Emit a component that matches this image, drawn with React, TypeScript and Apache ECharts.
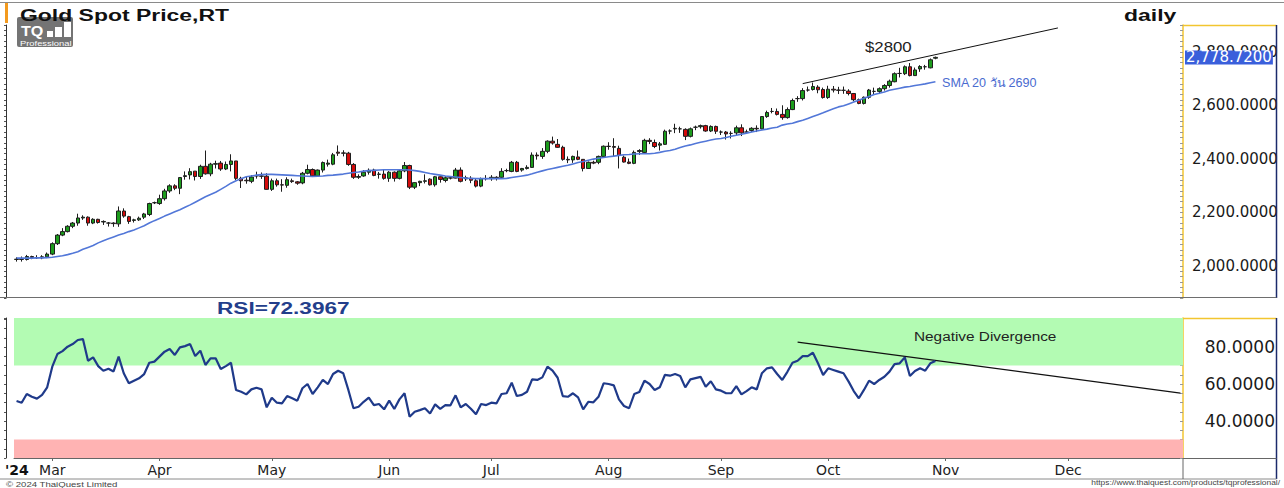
import React, { useEffect, useRef } from 'react';
import * as echarts from 'echarts';

// ---------- DATA ----------
// [open, close, low, high]
const OHLC_FEB = [
  [2024, 2025, 2016, 2032], [2025, 2024, 2016, 2035], [2024, 2035, 2020, 2041], [2035, 2031, 2025, 2038],
  [2031, 2030, 2026, 2040], [2030, 2034, 2025, 2040], [2034, 2044, 2029, 2050],
];
const OHLC_MAR = [
  [2044, 2083, 2040, 2088], [2083, 2115, 2078, 2119], [2115, 2128, 2111, 2141], [2128, 2148, 2125, 2152],
  [2148, 2160, 2141, 2164], [2160, 2179, 2150, 2195], [2179, 2182, 2172, 2189], [2182, 2160, 2150, 2185],
  [2160, 2174, 2156, 2178], [2174, 2162, 2158, 2176], [2164, 2166, 2153, 2170], [2160, 2160, 2147, 2164],
  [2160, 2158, 2146, 2163], [2157, 2205, 2146, 2222], [2205, 2186, 2180, 2215], [2184, 2166, 2157, 2187],
  [2170, 2172, 2162, 2176], [2172, 2178, 2168, 2184], [2182, 2194, 2175, 2198], [2192, 2233, 2186, 2236],
  [2236, 2236, 2231, 2240],
];
const OHLC_APR = [
  [2233, 2251, 2228, 2266], [2251, 2280, 2244, 2288], [2280, 2299, 2273, 2305], [2299, 2290, 2283, 2305],
  [2290, 2330, 2268, 2331], [2334, 2337, 2322, 2353], [2340, 2352, 2323, 2365], [2354, 2334, 2319, 2354],
  [2334, 2372, 2325, 2378], [2372, 2344, 2341, 2431], [2344, 2380, 2335, 2385], [2380, 2382, 2364, 2393],
  [2384, 2362, 2355, 2392], [2362, 2379, 2358, 2390], [2379, 2392, 2353, 2417], [2392, 2327, 2321, 2392],
  [2327, 2318, 2291, 2333], [2320, 2318, 2307, 2334], [2316, 2332, 2309, 2339], [2336, 2337, 2326, 2352],
  [2336, 2335, 2325, 2349], [2335, 2286, 2285, 2346],
];
const OHLC_MAY = [
  [2286, 2318, 2280, 2326], [2318, 2303, 2296, 2326], [2303, 2302, 2277, 2324], [2301, 2322, 2292, 2331],
  [2318, 2315, 2310, 2326], [2314, 2309, 2303, 2317], [2310, 2346, 2305, 2351], [2346, 2360, 2342, 2378],
  [2360, 2336, 2332, 2364], [2336, 2358, 2334, 2360], [2358, 2386, 2349, 2390], [2380, 2384, 2371, 2397],
  [2380, 2415, 2376, 2422], [2425, 2421, 2411, 2450], [2422, 2421, 2409, 2432], [2421, 2379, 2374, 2426],
  [2379, 2331, 2325, 2384], [2331, 2334, 2325, 2342], [2336, 2350, 2333, 2358], [2350, 2357, 2341, 2364],
  [2358, 2338, 2335, 2363], [2342, 2343, 2326, 2351], [2343, 2327, 2322, 2360],
];
const OHLC_JUN = [
  [2327, 2350, 2314, 2354], [2350, 2327, 2315, 2353], [2327, 2355, 2323, 2358], [2355, 2375, 2350, 2388],
  [2375, 2294, 2287, 2378], [2294, 2311, 2287, 2312], [2311, 2316, 2298, 2318], [2316, 2318, 2308, 2342],
  [2324, 2303, 2300, 2327], [2303, 2333, 2296, 2336], [2333, 2323, 2311, 2334], [2319, 2329, 2312, 2335],
  [2329, 2328, 2323, 2335], [2328, 2358, 2327, 2366], [2358, 2316, 2312, 2368], [2325, 2329, 2317, 2337],
  [2327, 2320, 2309, 2335], [2318, 2298, 2293, 2325], [2298, 2326, 2294, 2330], [2326, 2326, 2319, 2339],
];
const OHLC_JUL = [
  [2326, 2331, 2318, 2339], [2331, 2329, 2319, 2335], [2331, 2353, 2325, 2365], [2356, 2356, 2350, 2363],
  [2353, 2387, 2350, 2392], [2387, 2353, 2350, 2392], [2358, 2364, 2352, 2366], [2364, 2368, 2360, 2376],
  [2368, 2414, 2366, 2424], [2414, 2411, 2397, 2424], [2409, 2428, 2400, 2440], [2428, 2466, 2421, 2469],
  [2466, 2459, 2453, 2483], [2454, 2443, 2441, 2474], [2443, 2398, 2393, 2449], [2398, 2396, 2384, 2409],
  [2396, 2409, 2385, 2412], [2407, 2398, 2395, 2431], [2398, 2364, 2353, 2399], [2364, 2387, 2362, 2390],
  [2387, 2384, 2380, 2393], [2387, 2409, 2380, 2412], [2409, 2447, 2406, 2450],
];
const OHLC_AUG = [
  [2447, 2446, 2434, 2462], [2446, 2443, 2410, 2477], [2439, 2413, 2364, 2449], [2406, 2388, 2386, 2412],
  [2388, 2383, 2380, 2401], [2383, 2424, 2380, 2431], [2427, 2431, 2415, 2436], [2424, 2469, 2422, 2475],
  [2469, 2465, 2455, 2477], [2461, 2446, 2440, 2472], [2451, 2456, 2431, 2463], [2454, 2503, 2452, 2509],
  [2504, 2504, 2492, 2510], [2512, 2514, 2496, 2531], [2512, 2512, 2497, 2520], [2510, 2484, 2470, 2514],
  [2484, 2512, 2480, 2517], [2518, 2518, 2507, 2524], [2520, 2524, 2513, 2528], [2524, 2504, 2501, 2527],
  [2504, 2521, 2500, 2525], [2521, 2503, 2493, 2524],
];
const OHLC_SEP = [
  [2500, 2500, 2489, 2506], [2500, 2493, 2472, 2504], [2495, 2495, 2476, 2503], [2497, 2516, 2486, 2524],
  [2516, 2497, 2485, 2529], [2500, 2500, 2494, 2509], [2506, 2514, 2500, 2518], [2514, 2512, 2500, 2525],
  [2512, 2558, 2510, 2560], [2558, 2573, 2553, 2580], [2577, 2577, 2570, 2590], [2577, 2566, 2562, 2588],
  [2566, 2554, 2546, 2600], [2554, 2584, 2550, 2592], [2584, 2618, 2582, 2625], [2625, 2625, 2613, 2634],
  [2625, 2655, 2618, 2664], [2657, 2657, 2651, 2670], [2659, 2670, 2655, 2685], [2668, 2658, 2645, 2675],
  [2659, 2629, 2625, 2666],
];
const OHLC_OCT = [
  [2629, 2660, 2624, 2673], [2660, 2657, 2648, 2672], [2657, 2656, 2642, 2669], [2656, 2656, 2643, 2670],
  [2653, 2644, 2637, 2660], [2644, 2621, 2615, 2646], [2621, 2607, 2604, 2625], [2607, 2630, 2603, 2633],
  [2630, 2657, 2624, 2661], [2652, 2652, 2640, 2666], [2652, 2662, 2642, 2667], [2662, 2674, 2655, 2679],
  [2674, 2690, 2666, 2696], [2688, 2718, 2686, 2723], [2719, 2719, 2704, 2740], [2718, 2744, 2713, 2749],
  [2744, 2711, 2708, 2758], [2711, 2732, 2710, 2741], [2736, 2745, 2725, 2750], [2744, 2744, 2733, 2751],
  [2740, 2770, 2738, 2775], [2776, 2779, 2772, 2782],
];

const SMA_FEB = [2029, 2029, 2029, 2029, 2030, 2030, 2031];
const SMA_MAR = [2032, 2035, 2038, 2042, 2047, 2053, 2062, 2069, 2076, 2086, 2094, 2101, 2108, 2115, 2121, 2128, 2134, 2142, 2150, 2160, 2169];
const SMA_APR = [2177, 2186, 2194, 2202, 2210, 2219, 2228, 2238, 2248, 2258, 2267, 2275, 2286, 2297, 2309, 2318, 2326, 2333, 2336, 2339, 2341, 2342];
const SMA_MAY = [2342, 2341, 2340, 2339, 2338, 2337, 2336, 2335, 2334, 2335, 2336, 2338, 2339, 2341, 2343, 2346, 2349, 2351, 2354, 2356, 2357, 2358, 2359];
const SMA_JUN = [2359, 2359, 2359, 2359, 2358, 2356, 2353, 2349, 2345, 2342, 2339, 2336, 2334, 2332, 2330, 2328, 2327, 2326, 2326, 2326];
const SMA_JUL = [2326, 2326, 2326, 2327, 2330, 2333, 2336, 2339, 2344, 2350, 2355, 2360, 2364, 2368, 2372, 2376, 2381, 2386, 2390, 2395, 2399, 2402, 2405];
const SMA_AUG = [2408, 2410, 2413, 2415, 2416, 2418, 2419, 2419, 2419, 2421, 2424, 2428, 2431, 2436, 2442, 2448, 2452, 2457, 2462, 2466, 2470, 2474];
const SMA_SEP = [2476, 2480, 2484, 2488, 2492, 2496, 2500, 2504, 2508, 2511, 2515, 2518, 2526, 2530, 2533, 2539, 2544, 2551, 2558, 2565, 2572];
const SMA_OCT = [2580, 2587, 2594, 2598, 2605, 2612, 2619, 2626, 2633, 2640, 2645, 2650, 2656, 2660, 2664, 2668, 2670, 2674, 2677, 2680, 2684, 2688];

const RSI_FEB = [50.8, 49.9, 54.6, 53.1, 52.1, 54.1, 58.2];
const RSI_MAR = [69.4, 76.2, 77.8, 80.2, 81.6, 83.8, 84.3, 72.6, 74.4, 69.7, 67.2, 68.3, 66.8, 74.8, 65.8, 60.4, 61.8, 63.1, 65.4, 71.5, 72.1];
const RSI_APR = [74.8, 77.5, 78.9, 75.7, 79.8, 80.5, 81.6, 75.1, 78.0, 70.3, 73.9, 73.9, 68.1, 69.7, 71.5, 56.8, 55.8, 54.4, 57.1, 58.0, 57.1, 47.4];
const RSI_MAY = [52.6, 49.9, 49.5, 53.5, 52.3, 51.0, 57.7, 60.0, 54.6, 58.2, 62.2, 60.0, 65.4, 67.2, 65.8, 56.8, 46.9, 47.7, 50.4, 52.6, 48.6, 49.2, 46.3];
const RSI_JUN = [51.0, 46.5, 51.7, 55.0, 42.3, 45.0, 45.9, 46.9, 44.1, 49.0, 46.6, 48.6, 48.5, 53.9, 47.4, 49.2, 46.6, 43.6, 49.2, 48.6];
const RSI_JUL = [49.9, 49.5, 54.6, 55.0, 60.7, 53.5, 54.1, 55.8, 62.5, 62.2, 63.6, 69.4, 67.2, 63.4, 53.5, 53.1, 55.0, 52.8, 46.3, 50.4, 50.1, 53.1, 60.4];
const RSI_AUG = [60.0, 59.3, 51.7, 48.1, 46.9, 54.6, 55.7, 61.8, 60.0, 56.8, 58.2, 64.9, 64.5, 65.4, 64.3, 58.2, 62.5, 63.2, 63.9, 58.5, 61.5, 57.1];
const RSI_SEP = [56.4, 55.0, 55.0, 58.9, 54.4, 56.2, 58.2, 57.1, 65.8, 68.5, 69.0, 65.4, 62.2, 66.6, 71.5, 72.6, 75.1, 75.1, 76.9, 71.2, 64.9];
const RSI_OCT = [68.5, 67.6, 66.7, 65.8, 61.3, 56.2, 52.3, 56.8, 61.8, 60.0, 62.2, 63.9, 66.7, 70.8, 71.2, 74.4, 64.3, 67.0, 68.5, 67.2, 71.2, 72.4];

const LAST_PRICE = 2778.72;
const LAST_RSI = 72.3967;
const SMA_LAST_LABEL = 2690;
// trend lines: [category index, value]
const PRICE_TREND = [[154, 2681], [204, 2889]];
const RSI_TREND = [[153, 82.7], [228, 55.1]];
// month tick labels at category indices
const MONTH_TICK_INDEX = [7, 28, 50, 73, 93, 116, 138, 159, 182, 206];
const MONTH_TICK_LABEL = ['Mar', 'Apr', 'May', 'Jun', 'Jul', 'Aug', 'Sep', 'Oct', 'Nov', 'Dec'];
const PRICE_LABELS = [2000, 2200, 2400, 2600, 2800];
const RSI_LABELS = [40, 60, 80];
const RSI_OVERBOUGHT = [70, 95.7];
const RSI_OVERSOLD = [20, 30];
const TOTAL_SLOTS = 229;

// ---------- build ----------
const OHLC = [
  ...OHLC_FEB, ...OHLC_MAR, ...OHLC_APR, ...OHLC_MAY, ...OHLC_JUN,
  ...OHLC_JUL, ...OHLC_AUG, ...OHLC_SEP, ...OHLC_OCT,
];
const SMA20 = [
  ...SMA_FEB, ...SMA_MAR, ...SMA_APR, ...SMA_MAY, ...SMA_JUN,
  ...SMA_JUL, ...SMA_AUG, ...SMA_SEP, ...SMA_OCT,
];
const RSI = [
  ...RSI_FEB, ...RSI_MAR, ...RSI_APR, ...RSI_MAY, ...RSI_JUN,
  ...RSI_JUL, ...RSI_AUG, ...RSI_SEP, ...RSI_OCT,
];

function buildDates(n: number): string[] {
  const out: string[] = [];
  const d = new Date(Date.UTC(2024, 1, 21));
  while (out.length < n) {
    const wd = d.getUTCDay();
    if (wd !== 0 && wd !== 6) out.push(d.toISOString().slice(0, 10));
    d.setUTCDate(d.getUTCDate() + 1);
  }
  return out;
}
const DATES = buildDates(TOTAL_SLOTS);
const monthLabelAt: Record<number, string> = {};
MONTH_TICK_INDEX.forEach((idx, i) => { monthLabelAt[idx] = MONTH_TICK_LABEL[i]; });
const isMonthTick = (index: number) => monthLabelAt[index] !== undefined;

const fmt4 = (v: number) =>
  v.toLocaleString('en-US', { minimumFractionDigits: 4, maximumFractionDigits: 4 });

const GRID_LEFT = 14;
const GRID_W = 1169;
const AXIS_X = GRID_LEFT + GRID_W; // 1183
const PANEL_R = 1276.5;
const TXT = 'Liberation Sans';
const AXFONT = 'DejaVu Sans';

const option: any = {
  animation: false,
  backgroundColor: '#ffffff',
  grid: [
    { left: GRID_LEFT, width: GRID_W, top: 25, height: 273 },
    { left: GRID_LEFT, width: GRID_W, top: 318, height: 140 },
  ],
  xAxis: [
    {
      type: 'category', gridIndex: 0, data: DATES, boundaryGap: true,
      axisLine: { show: false }, axisTick: { show: false }, axisLabel: { show: false },
      splitLine: { show: false },
    },
    {
      type: 'category', gridIndex: 1, data: DATES, boundaryGap: true,
      axisLine: { show: true, lineStyle: { color: '#666', width: 1 } },
      axisTick: { show: true, alignWithLabel: true, interval: (i: number) => isMonthTick(i), length: 3, lineStyle: { color: '#666' } },
      axisLabel: {
        show: true, interval: (i: number) => isMonthTick(i),
        formatter: (_v: string, i: number) => monthLabelAt[i] || '',
        fontFamily: AXFONT, fontSize: 14, color: '#222', margin: 5,
      },
      splitLine: { show: false },
    },
  ],
  yAxis: [
    {
      type: 'value', gridIndex: 0, position: 'right', min: 1880, max: 2900, interval: 20,
      axisLine: { show: true, lineStyle: { color: '#f2c530', width: 1.5 } },
      axisTick: { show: true, inside: true, length: 3, lineStyle: { color: '#999' } },
      axisLabel: {
        show: true, margin: 9, fontFamily: AXFONT, fontSize: 15, color: '#1a1a1a',
        formatter: (v: number) => (PRICE_LABELS.indexOf(v) >= 0 ? fmt4(v) : ''),
      },
      splitLine: { show: false },
    },
    {
      type: 'value', gridIndex: 1, position: 'right', min: 20, max: 95.7, interval: 5,
      axisLine: { show: true, lineStyle: { color: '#f2c530', width: 1.5 } },
      axisTick: { show: true, inside: true, length: 3, lineStyle: { color: '#999' } },
      axisLabel: {
        show: true, margin: 92, align: 'right', fontFamily: AXFONT, fontSize: 17, color: '#1a1a1a',
        showMaxLabel: false,
        formatter: (v: number) => (RSI_LABELS.indexOf(v) >= 0 ? fmt4(v) : ''),
      },
      splitLine: { show: false },
    },
    {
      type: 'value', gridIndex: 0, position: 'left', offset: 8, min: 1880, max: 2900, interval: 20,
      axisLine: { show: true, lineStyle: { color: '#333', width: 1 } },
      axisTick: { show: true, length: 2, lineStyle: { color: '#555' } },
      axisLabel: { show: false }, splitLine: { show: false },
    },
    {
      type: 'value', gridIndex: 1, position: 'left', offset: 8, min: 20, max: 95.7, interval: 5,
      axisLine: { show: true, lineStyle: { color: '#333', width: 1 } },
      axisTick: { show: true, length: 2, lineStyle: { color: '#555' } },
      axisLabel: { show: false }, splitLine: { show: false },
    },
  ],
  series: [
    {
      type: 'candlestick', name: 'Gold', xAxisIndex: 0, yAxisIndex: 0, data: OHLC,
      barWidth: 4,
      itemStyle: {
        color: '#1c9c1c', color0: '#d40b0b', borderColor: '#1e1e1e', borderColor0: '#1e1e1e', borderWidth: 1,
      },
      markLine: {
        silent: true, symbol: ['none', 'none'],
        data: [
          [
            { coord: PRICE_TREND[0], lineStyle: { color: '#111', width: 1, type: 'solid' }, label: { show: false } },
            { coord: PRICE_TREND[1] },
          ],
        ],
      },
    },
    {
      type: 'line', name: 'SMA 20', xAxisIndex: 0, yAxisIndex: 0, data: SMA20,
      symbol: 'none', lineStyle: { color: '#5277d8', width: 1.6 }, itemStyle: { color: '#5277d8' },
      markLine: {
        silent: true, symbol: ['none', 'none'],
        lineStyle: { color: 'rgba(0,0,0,0)', width: 0, type: 'solid' },
        data: [
          {
            yAxis: LAST_PRICE,
            label: {
              show: true, position: 'end', distance: 2,
              formatter: () => fmt4(LAST_PRICE),
              backgroundColor: '#3a5fdb', color: '#ffffff',
              fontFamily: AXFONT, fontSize: 15, lineHeight: 14, padding: [0, 1],
            },
          },
        ],
      },
    },
    {
      type: 'line', name: 'RSI', xAxisIndex: 1, yAxisIndex: 1, data: RSI,
      symbol: 'none', lineStyle: { color: '#1f3a8a', width: 2.2 }, itemStyle: { color: '#1f3a8a' },
      z: 5,
      markArea: {
        silent: true,
        data: [
          [{ yAxis: RSI_OVERBOUGHT[0], itemStyle: { color: '#b3fbb3' } }, { yAxis: RSI_OVERBOUGHT[1] }],
          [{ yAxis: RSI_OVERSOLD[0], itemStyle: { color: '#ffb3b3' } }, { yAxis: RSI_OVERSOLD[1] }],
        ],
      },
      markLine: {
        silent: true, symbol: ['none', 'none'],
        data: [[
          { coord: RSI_TREND[0], lineStyle: { color: '#111', width: 1.2, type: 'solid' }, label: { show: false } },
          { coord: RSI_TREND[1] },
        ]],
      },
    },
  ],
  graphic: [
    // frame lines
    { type: 'line', z: 50, shape: { x1: 0, y1: 2.5, x2: 1284, y2: 2.5 }, style: { stroke: '#8a8a8a', lineWidth: 1 } },
    { type: 'rect', z: 50, shape: { x: 5, y: 3, width: 3, height: 20 }, style: { fill: '#f39a1e' } },
    { type: 'line', z: 50, shape: { x1: AXIS_X, y1: 25.5, x2: PANEL_R, y2: 25.5 }, style: { stroke: '#f2c530', lineWidth: 1.5 } },
    { type: 'line', z: 50, shape: { x1: PANEL_R, y1: 25, x2: PANEL_R, y2: 298 }, style: { stroke: '#1b2a6b', lineWidth: 1.5 } },
    { type: 'line', z: 50, shape: { x1: 0, y1: 297.5, x2: PANEL_R, y2: 297.5 }, style: { stroke: '#6e6e6e', lineWidth: 1.2 } },
    { type: 'line', z: 50, shape: { x1: AXIS_X, y1: 318.5, x2: PANEL_R, y2: 318.5 }, style: { stroke: '#f2c530', lineWidth: 1.5 } },
    { type: 'line', z: 50, shape: { x1: PANEL_R, y1: 318, x2: PANEL_R, y2: 479 }, style: { stroke: '#1b2a6b', lineWidth: 1.5 } },
    { type: 'line', z: 50, shape: { x1: 0, y1: 479, x2: PANEL_R, y2: 479 }, style: { stroke: '#8a8a8a', lineWidth: 1 } },
    { type: 'line', z: 50, shape: { x1: AXIS_X, y1: 458, x2: AXIS_X, y2: 479 }, style: { stroke: '#666', lineWidth: 1 } },
    { type: 'line', z: 50, shape: { x1: AXIS_X, y1: 458.5, x2: PANEL_R, y2: 458.5 }, style: { stroke: '#666', lineWidth: 1 } },
    // title + daily
    {
      type: 'text', z: 60, x: 20, y: 15, scaleX: 1.35,
      style: { text: 'Gold Spot Price,RT', fontFamily: TXT, fontWeight: 'bold', fontSize: 17, fill: '#111', verticalAlign: 'middle' },
    },
    {
      type: 'text', z: 60, x: 1124, y: 15, scaleX: 1.35,
      style: { text: 'daily', fontFamily: TXT, fontWeight: 'bold', fontSize: 17, fill: '#111', verticalAlign: 'middle' },
    },
    // TQ logo
    {
      type: 'group', z: 70, x: 17, y: 17,
      children: [
        { type: 'rect', shape: { x: 0, y: 0, width: 56, height: 30, r: 2 }, style: { fill: '#747474' } },
        { type: 'text', x: 4, y: 14, scaleX: 1.15, style: { text: 'TQ', fontFamily: TXT, fontWeight: 'bold', fontSize: 14, fill: '#fff', verticalAlign: 'middle' } },
        { type: 'rect', shape: { x: 30, y: 14, width: 6, height: 6 }, style: { fill: '#fff' } },
        { type: 'rect', shape: { x: 38, y: 10, width: 7, height: 10 }, style: { fill: '#fff' } },
        { type: 'rect', shape: { x: 47, y: 5, width: 7, height: 15 }, style: { fill: '#fff' } },
        { type: 'text', x: 3, y: 26, scaleX: 1.25, style: { text: 'Professional', fontFamily: TXT, fontSize: 7.5, fill: '#fff', verticalAlign: 'middle' } },
      ],
    },
    // annotations
    {
      type: 'text', z: 60, x: 865, y: 47, scaleX: 1.2,
      style: { text: '$2800', fontFamily: TXT, fontSize: 14, fill: '#222', verticalAlign: 'middle' },
    },
    {
      type: 'text', z: 60, x: 942, y: 83, scaleX: 1.05,
      style: { text: 'SMA 20 วัน ' + SMA_LAST_LABEL, fontFamily: TXT, fontSize: 12, fill: '#4a6bd0', verticalAlign: 'middle' },
    },
    {
      type: 'text', z: 60, x: 217, y: 308, scaleX: 1.33,
      style: { text: 'RSI=' + LAST_RSI.toFixed(4), fontFamily: TXT, fontWeight: 'bold', fontSize: 17, fill: '#233e8b', verticalAlign: 'middle' },
    },
    {
      type: 'text', z: 60, x: 914, y: 337, scaleX: 1.28,
      style: { text: 'Negative Divergence', fontFamily: TXT, fontSize: 12, fill: '#222', verticalAlign: 'middle' },
    },
    {
      type: 'text', z: 60, x: 5, y: 470,
      style: { text: "'24", fontFamily: AXFONT, fontWeight: 'bold', fontSize: 14, fill: '#111', verticalAlign: 'middle' },
    },
    {
      type: 'text', z: 60, x: 6, y: 484, scaleX: 1.2,
      style: { text: '© 2024 ThaiQuest Limited', fontFamily: TXT, fontSize: 8, fill: '#444', verticalAlign: 'middle' },
    },
    {
      type: 'text', z: 60, x: 1280, y: 483, scaleX: 1.2,
      style: { text: 'https://www.thaiquest.com/products/tqprofessional/', fontFamily: TXT, fontSize: 7, fill: '#444', align: 'right', verticalAlign: 'middle' },
    },
  ],
};

export default function App() {
  const ref = useRef<HTMLDivElement>(null);
  useEffect(() => {
    if (!ref.current) return;
    const chart = echarts.init(ref.current, null, { renderer: 'svg' });
    chart.setOption(option);
    return () => chart.dispose();
  }, []);
  return (
    <div
      ref={ref}
      style={{ position: 'absolute', left: 0, top: 0, width: 1284, height: 488, background: '#ffffff' }}
    />
  );
}
